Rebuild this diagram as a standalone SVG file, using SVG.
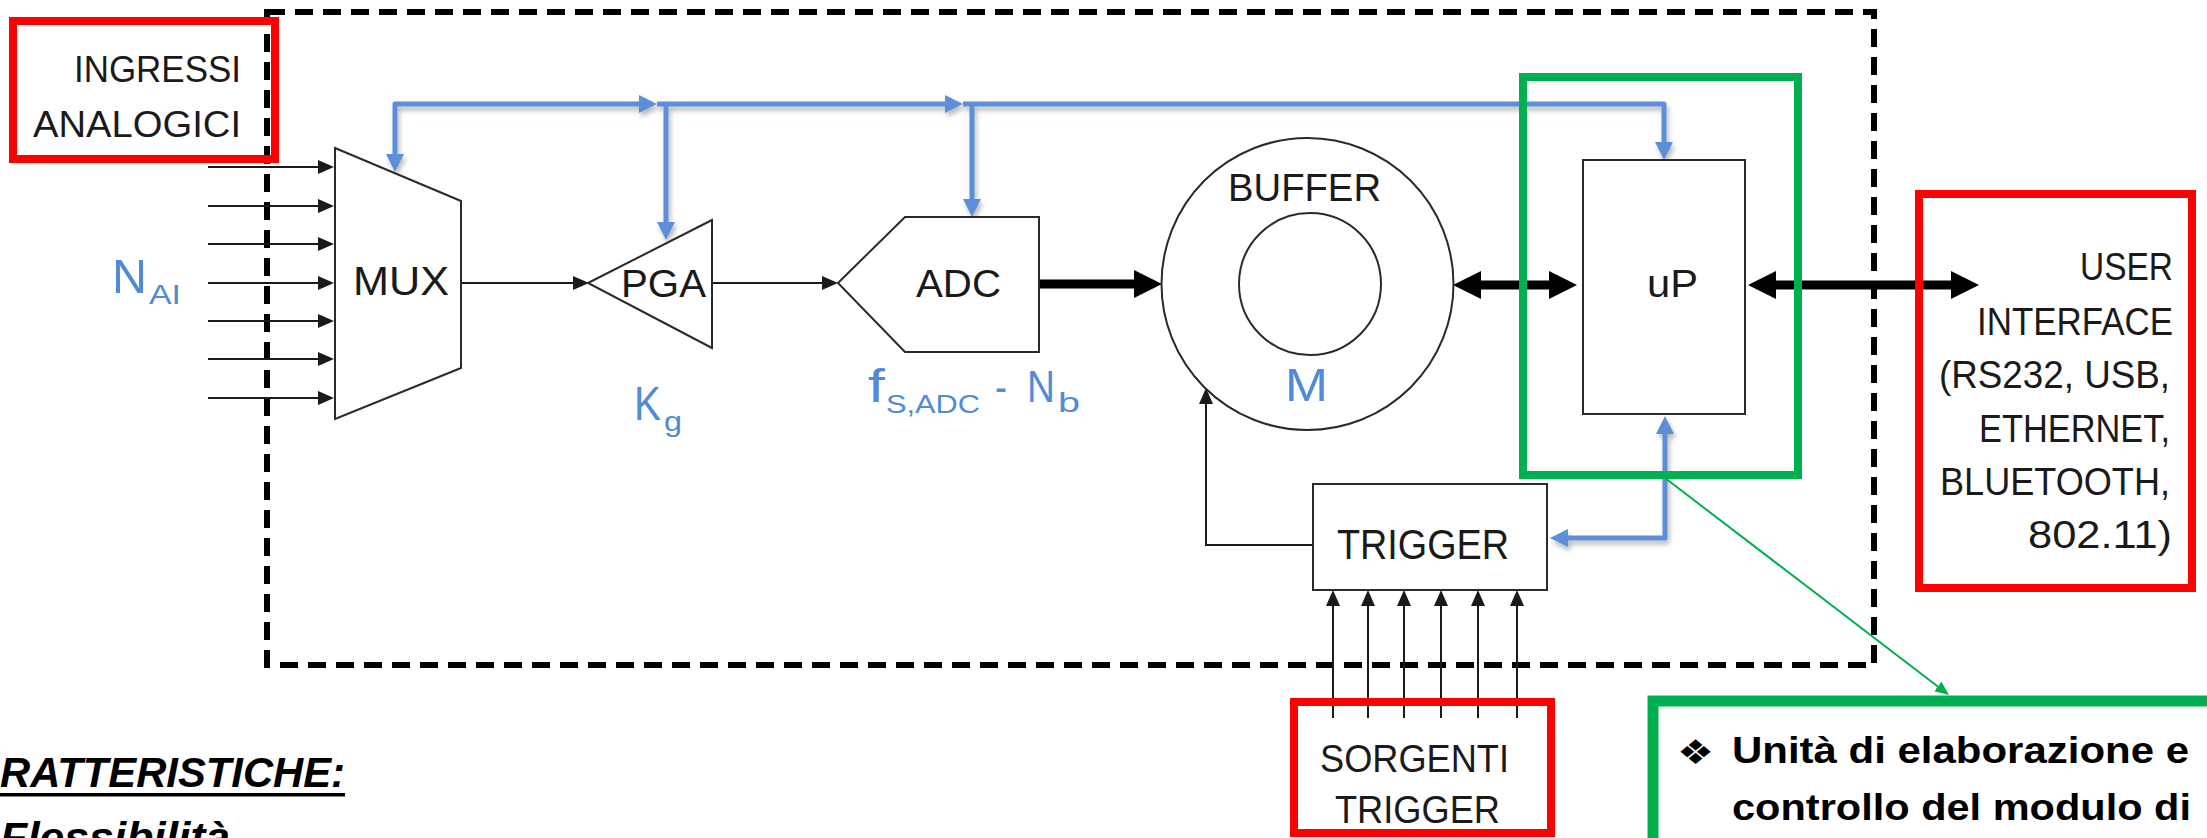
<svg xmlns="http://www.w3.org/2000/svg" width="2207" height="838" viewBox="0 0 2207 838">
<style>
.t{font-family:"Liberation Sans",Arial,sans-serif;fill:#1a1a1a}
.bt{font-family:"Liberation Sans",Arial,sans-serif;fill:#4f8bd6}
.sym{font-family:"DejaVu Sans",sans-serif;fill:#000}
.bold{font-weight:bold;fill:#000}
.shape{fill:#fff;stroke:#2a2a2a;stroke-width:2}
.wire{fill:none;stroke:#1a1a1a;stroke-width:2}
.bus{fill:none;stroke:#5b8fd8;stroke-width:5;stroke-linejoin:round}
.thick{fill:none;stroke:#000;stroke-width:9}
.dash{fill:none;stroke:#000;stroke-width:6;stroke-dasharray:18 10}
.red{fill:none;stroke:#ff0000;stroke-width:8}
.green{fill:none;stroke:#00b050;stroke-width:8}
</style>
<defs>
<marker id="ab" markerUnits="userSpaceOnUse" markerWidth="16" markerHeight="14" refX="13" refY="7" orient="auto-start-reverse" viewBox="0 0 16 14"><path d="M0,0 L16,7 L0,14 z" fill="#1a1a1a"/></marker>
<marker id="bl" markerUnits="userSpaceOnUse" markerWidth="18" markerHeight="18" refX="12" refY="9" orient="auto-start-reverse" viewBox="0 0 18 18"><path d="M0,0 L18,9 L0,18 z" fill="#5b8fd8"/></marker>
<marker id="bk" markerUnits="userSpaceOnUse" markerWidth="28" markerHeight="28" refX="16" refY="14" orient="auto-start-reverse" viewBox="0 0 28 28"><path d="M0,0 L28,14 L0,28 z" fill="#000"/></marker>
<marker id="gr" markerUnits="userSpaceOnUse" markerWidth="14" markerHeight="12" refX="11" refY="6" orient="auto" viewBox="0 0 14 12"><path d="M0,0 L14,6 L0,12 z" fill="#00b050"/></marker>
<filter id="sh" x="-5%" y="-20%" width="110%" height="140%"><feDropShadow dx="2" dy="4" stdDeviation="2.5" flood-color="#000" flood-opacity="0.28"/></filter>
</defs>
<rect width="2207" height="838" fill="#fff"/>
<rect id="system-boundary" class="dash" x="267" y="12" width="1607" height="653"/>

<g id="connectors">
  <g id="inputs">
    <path class="wire" marker-end="url(#ab)" d="M208,167 L331,167"/>
    <path class="wire" marker-end="url(#ab)" d="M208,206 L331,206"/>
    <path class="wire" marker-end="url(#ab)" d="M208,244 L331,244"/>
    <path class="wire" marker-end="url(#ab)" d="M208,283 L331,283"/>
    <path class="wire" marker-end="url(#ab)" d="M208,321 L331,321"/>
    <path class="wire" marker-end="url(#ab)" d="M208,359 L331,359"/>
    <path class="wire" marker-end="url(#ab)" d="M208,398 L331,398"/>
  </g>
  <path class="wire" marker-end="url(#ab)" d="M461,283 L586,283"/>
  <path class="wire" marker-end="url(#ab)" d="M712,283 L835,283"/>
  <path class="wire" marker-end="url(#ab)" d="M1313,545 L1206,545 L1206,391"/>
  <g id="trigger-inputs">
    <path class="wire" marker-end="url(#ab)" d="M1333,718 L1333,593"/>
    <path class="wire" marker-end="url(#ab)" d="M1368,718 L1368,593"/>
    <path class="wire" marker-end="url(#ab)" d="M1404,718 L1404,593"/>
    <path class="wire" marker-end="url(#ab)" d="M1441,718 L1441,593"/>
    <path class="wire" marker-end="url(#ab)" d="M1478,718 L1478,593"/>
    <path class="wire" marker-end="url(#ab)" d="M1517,718 L1517,593"/>
  </g>
  <g id="control-bus" filter="url(#sh)">
    <path class="bus" marker-start="url(#bl)" marker-end="url(#bl)" d="M395,166 L395,104 L651,104"/>
    <path class="bus" marker-end="url(#bl)" d="M657,104 L957,104"/>
    <path class="bus" marker-end="url(#bl)" d="M963,104 L1664,104 L1664,154"/>
    <path class="bus" marker-end="url(#bl)" d="M666,104 L666,234"/>
    <path class="bus" marker-end="url(#bl)" d="M972,104 L972,211"/>
    <path class="bus" marker-start="url(#bl)" marker-end="url(#bl)" d="M1665,422 L1665,538 L1556,538"/>
  </g>
  <path class="thick" marker-end="url(#bk)" d="M1039,284 L1150,284"/>
  <path class="thick" marker-start="url(#bk)" marker-end="url(#bk)" d="M1465,285 L1565,285"/>
  <path class="thick" marker-start="url(#bk)" marker-end="url(#bk)" d="M1760,285 L1967,285"/>
  <path fill="none" stroke="#00b050" stroke-width="2" marker-end="url(#gr)" d="M1665,478 L1946.6,693.2"/>
</g>

<g id="mux">
  <polygon class="shape" points="335,148 461,201 461,368 335,419"/>
  <text class="t" x="353" y="295" font-size="41" textLength="96" lengthAdjust="spacingAndGlyphs">MUX</text>
</g>
<g id="n-ai">
  <text class="bt" x="112" y="293" font-size="48" textLength="35" lengthAdjust="spacingAndGlyphs">N</text>
  <text class="bt" x="149" y="304" font-size="28" textLength="32" lengthAdjust="spacingAndGlyphs">AI</text>
</g>
<g id="pga">
  <polygon class="shape" points="588,283 712,220 712,348"/>
  <text class="t" x="621" y="297" font-size="39" textLength="85" lengthAdjust="spacingAndGlyphs">PGA</text>
</g>
<g id="kg">
  <text class="bt" x="634" y="420" font-size="48" textLength="27" lengthAdjust="spacingAndGlyphs">K</text>
  <text class="bt" x="664" y="431" font-size="28" textLength="18" lengthAdjust="spacingAndGlyphs">g</text>
</g>
<g id="adc">
  <polygon class="shape" points="838,283 905,217 1039,217 1039,352 905,352"/>
  <text class="t" x="916" y="297" font-size="39" textLength="85" lengthAdjust="spacingAndGlyphs">ADC</text>
</g>
<g id="adc-params">
  <text class="bt" x="868" y="402" font-size="46" textLength="17" lengthAdjust="spacingAndGlyphs">f</text>
  <text class="bt" x="886" y="413" font-size="25" textLength="94" lengthAdjust="spacingAndGlyphs">S,ADC</text>
  <text class="bt" x="995" y="402" font-size="44" textLength="12" lengthAdjust="spacingAndGlyphs">-</text>
  <text class="bt" x="1027" y="402" font-size="44" textLength="28" lengthAdjust="spacingAndGlyphs">N</text>
  <text class="bt" x="1058" y="412" font-size="28" textLength="22" lengthAdjust="spacingAndGlyphs">b</text>
</g>
<g id="buffer">
  <circle class="shape" cx="1307.5" cy="284" r="146"/>
  <circle class="shape" cx="1310" cy="284" r="71"/>
  <text class="t" x="1228" y="201" font-size="39" textLength="153" lengthAdjust="spacingAndGlyphs">BUFFER</text>
  <text class="bt" x="1285" y="401" font-size="46" textLength="43" lengthAdjust="spacingAndGlyphs">M</text>
</g>
<g id="up">
  <rect class="shape" x="1583" y="160" width="162" height="254"/>
  <text class="t" x="1647" y="297" font-size="38" textLength="51" lengthAdjust="spacingAndGlyphs">uP</text>
</g>
<g id="trigger">
  <rect class="shape" x="1313" y="484" width="234" height="106"/>
  <text class="t" x="1337" y="559" font-size="43" textLength="172" lengthAdjust="spacingAndGlyphs">TRIGGER</text>
</g>

<g id="ingressi-analogici">
  <rect class="red" x="13" y="21" width="262" height="138"/>
  <text class="t" x="74" y="82" font-size="37" textLength="167" lengthAdjust="spacingAndGlyphs">INGRESSI</text>
  <text class="t" x="33" y="137" font-size="37" textLength="208" lengthAdjust="spacingAndGlyphs">ANALOGICI</text>
</g>
<g id="user-interface">
  <rect class="red" x="1919" y="194" width="273" height="394"/>
  <text class="t" x="2080" y="280" font-size="38" textLength="93" lengthAdjust="spacingAndGlyphs">USER</text>
  <text class="t" x="1977" y="335" font-size="38" textLength="196" lengthAdjust="spacingAndGlyphs">INTERFACE</text>
  <text class="t" x="1939" y="388" font-size="38" textLength="231" lengthAdjust="spacingAndGlyphs">(RS232, USB,</text>
  <text class="t" x="1979" y="442" font-size="38" textLength="191" lengthAdjust="spacingAndGlyphs">ETHERNET,</text>
  <text class="t" x="1940" y="495" font-size="38" textLength="230" lengthAdjust="spacingAndGlyphs">BLUETOOTH,</text>
  <text class="t" x="2028" y="548" font-size="38" textLength="144" lengthAdjust="spacingAndGlyphs">802.11)</text>
</g>
<g id="sorgenti-trigger">
  <rect class="red" x="1294" y="702" width="257" height="131"/>
  <text class="t" x="1320" y="772" font-size="38" textLength="189" lengthAdjust="spacingAndGlyphs">SORGENTI</text>
  <text class="t" x="1335" y="823" font-size="38" textLength="165" lengthAdjust="spacingAndGlyphs">TRIGGER</text>
</g>
<g id="up-highlight">
  <rect class="green" x="1523" y="77" width="275" height="398"/>
</g>
<g id="up-note">
  <rect fill="#fff" stroke="#00b050" stroke-width="11" x="1653" y="701" width="620" height="220"/>
  <text class="sym" x="1677" y="764" font-size="34" textLength="37" lengthAdjust="spacingAndGlyphs">❖</text>
  <text class="t bold" x="1732" y="763" font-size="37" textLength="457" lengthAdjust="spacingAndGlyphs">Unità di elaborazione e</text>
  <text class="t bold" x="1732" y="820" font-size="37" textLength="459" lengthAdjust="spacingAndGlyphs">controllo del modulo di</text>
</g>
<g id="caratteristiche">
  <text class="t bold" x="0" y="787" font-size="42" font-style="italic" textLength="345" lengthAdjust="spacingAndGlyphs">RATTERISTICHE:</text>
  <rect x="0" y="793" width="345" height="3.5" fill="#000"/>
  <text class="t bold" x="0" y="852" font-size="42" font-style="italic" textLength="230" lengthAdjust="spacingAndGlyphs">Flessibilità</text>
</g>
</svg>
